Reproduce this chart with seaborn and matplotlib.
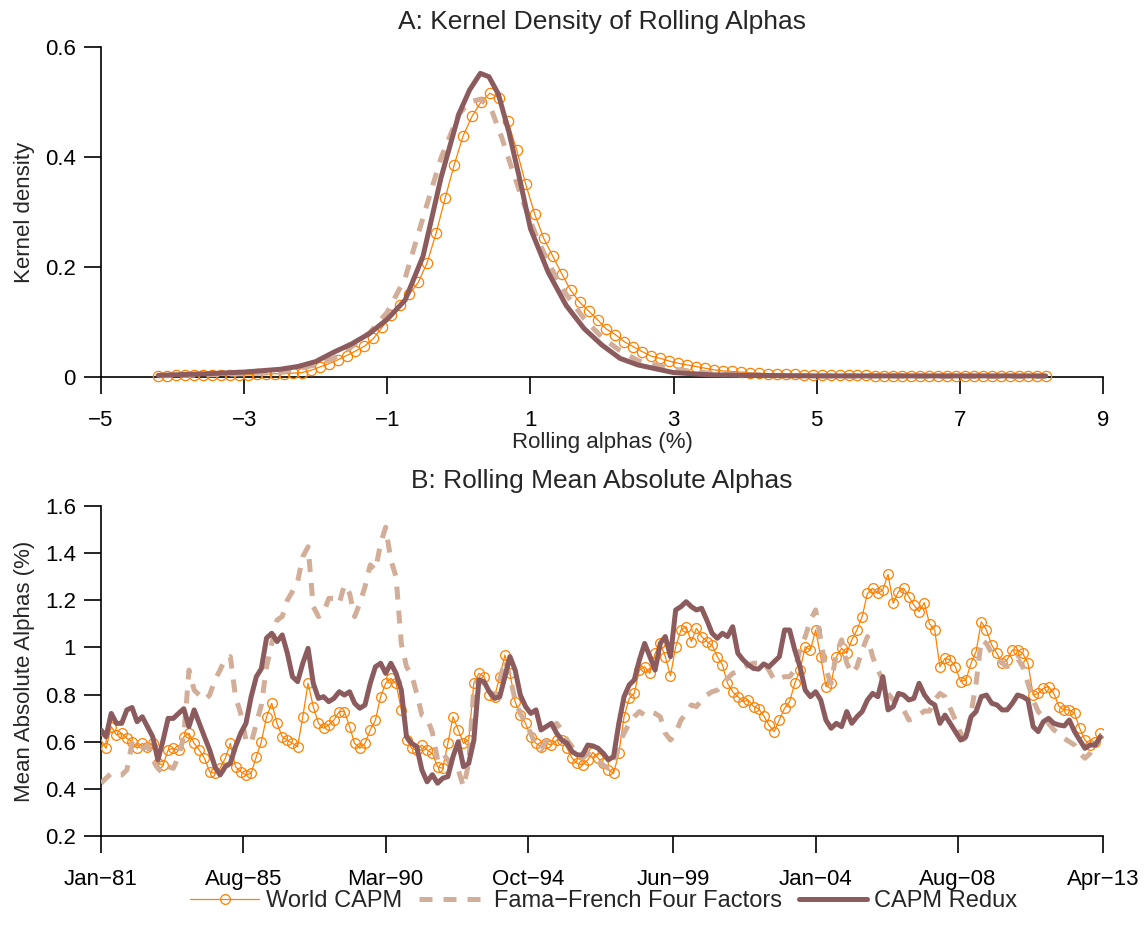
import numpy as np
import pandas as pd
import matplotlib
matplotlib.use("Agg")
import matplotlib.pyplot as plt
import seaborn as sns

# ---------------- Panel A: kernel densities of rolling alphas ----------------
world_grid = np.linspace(-4.2, 8.2, 100)
world_density = [
    0.002, 0.002, 0.003, 0.003, 0.004, 0.004, 0.004, 0.004, 0.004, 0.004, 0.004,
    0.005, 0.005, 0.006, 0.006, 0.007, 0.008,
    0.012, 0.018, 0.024, 0.031, 0.039, 0.047, 0.056, 0.070, 0.091, 0.112, 0.131, 0.150, 0.172,
    0.208, 0.262, 0.325, 0.385, 0.438, 0.474, 0.500, 0.516, 0.508, 0.465,
    0.412, 0.350, 0.296, 0.252, 0.220, 0.188, 0.158, 0.136, 0.120, 0.104,
    0.087, 0.077, 0.064, 0.055, 0.046, 0.038, 0.034, 0.029, 0.025, 0.022,
    0.019, 0.016, 0.013, 0.011, 0.010, 0.009, 0.008, 0.007, 0.006, 0.006,
    0.005, 0.005, 0.004, 0.004, 0.003, 0.003, 0.003, 0.003, 0.003, 0.003,
    0.002, 0.002, 0.002, 0.002, 0.002, 0.002, 0.002, 0.002, 0.002, 0.002,
    0.002, 0.002, 0.002, 0.001, 0.001, 0.001, 0.001, 0.001, 0.001, 0.001,
]

ff_grid = [-4.2, -3.5, -3.0, -2.5, -2.0, -1.75, -1.5, -1.25, -1.0, -0.75, -0.5, -0.25,
           0.0, 0.15, 0.3, 0.45, 0.6, 0.75, 0.9, 1.1, 1.3, 1.5, 1.75, 2.0, 2.25, 2.5,
           3.0, 3.5, 4.0, 5.0, 6.0, 7.0, 8.2]
ff_density = [0.002, 0.004, 0.006, 0.008, 0.022, 0.034, 0.055, 0.080, 0.118, 0.180, 0.290, 0.398,
              0.478, 0.500, 0.505, 0.488, 0.435, 0.375, 0.318, 0.250, 0.196, 0.150, 0.106, 0.072,
              0.048, 0.030, 0.014, 0.007, 0.004, 0.002, 0.002, 0.001, 0.001]

redux_grid = [-4.2, -3.5, -3.0, -2.5, -2.25, -2.0, -1.75, -1.5, -1.25, -1.0, -0.75, -0.5, -0.25,
              0.0, 0.15, 0.3, 0.42, 0.55, 0.7, 0.85, 1.0, 1.25, 1.5, 1.75, 2.0, 2.25, 2.5,
              3.0, 3.5, 4.0, 5.0, 6.0, 7.0, 8.2]
redux_density = [0.003, 0.006, 0.009, 0.014, 0.019, 0.028, 0.045, 0.060, 0.079, 0.105, 0.140, 0.220,
                 0.362, 0.478, 0.522, 0.552, 0.546, 0.515, 0.445, 0.360, 0.270, 0.190, 0.130, 0.088,
                 0.058, 0.034, 0.022, 0.008, 0.004, 0.003, 0.002, 0.002, 0.002, 0.002]

# ---------------- Panel B: rolling mean absolute alphas (bi-monthly) ----------------
dates = pd.date_range("1981-01-01", "2013-03-01", freq="2MS")

world_capm = [
    0.607, 0.572, 0.664, 0.629, 0.636, 0.614, 0.600, 0.572, 0.593, 0.579,
    0.593, 0.508, 0.501, 0.565, 0.572, 0.565, 0.621, 0.636, 0.593, 0.565,
    0.530, 0.473, 0.466, 0.487, 0.530, 0.593, 0.494, 0.473, 0.459, 0.466,
    0.537, 0.600, 0.706, 0.763, 0.678, 0.621, 0.607, 0.593, 0.579, 0.706,
    0.848, 0.749, 0.678, 0.657, 0.671, 0.692, 0.728, 0.728, 0.664, 0.593,
    0.572, 0.593, 0.650, 0.692, 0.791, 0.848, 0.869, 0.848, 0.735, 0.607,
    0.572, 0.565, 0.586, 0.565, 0.551, 0.494, 0.487, 0.593, 0.706, 0.650,
    0.593, 0.607, 0.850, 0.890, 0.876, 0.798, 0.791, 0.876, 0.968, 0.890,
    0.770, 0.713, 0.678, 0.621, 0.593, 0.579, 0.593, 0.586, 0.607, 0.607,
    0.572, 0.530, 0.508, 0.501, 0.523, 0.555, 0.530, 0.508, 0.480, 0.466,
    0.551, 0.706, 0.784, 0.805, 0.904, 0.918, 0.890, 0.975, 1.017, 0.961,
    0.880, 1.003, 1.074, 1.088, 1.025, 1.081, 1.046, 1.025, 1.010, 0.961,
    0.926, 0.848, 0.812, 0.791, 0.770, 0.777, 0.749, 0.740, 0.710, 0.671,
    0.643, 0.692, 0.742, 0.770, 0.848, 0.904, 1.003, 0.989, 1.074, 0.961,
    0.834, 0.848, 0.961, 0.996, 0.975, 1.032, 1.074, 1.131, 1.229, 1.251,
    1.229, 1.244, 1.310, 1.187, 1.237, 1.251, 1.215, 1.180, 1.152, 1.190,
    1.100, 1.074, 0.918, 0.954, 0.947, 0.918, 0.855, 0.862, 0.933, 0.982,
    1.109, 1.074, 1.010, 0.975, 0.933, 0.947, 0.989, 0.989, 0.975, 0.933,
    0.798, 0.805, 0.827, 0.834, 0.805, 0.749, 0.735, 0.735, 0.721, 0.657,
    0.607, 0.586, 0.600, 0.636,
]

fama_french = [
    0.424, 0.445, 0.466, 0.459, 0.459, 0.480, 0.593, 0.579, 0.565, 0.586,
    0.523, 0.487, 0.466, 0.494, 0.487, 0.537, 0.621, 0.904, 0.819, 0.798,
    0.777, 0.798, 0.862, 0.904, 0.954, 0.961, 0.791, 0.720, 0.607, 0.593,
    0.678, 0.755, 0.918, 1.017, 1.116, 1.131, 1.201, 1.237, 1.279, 1.385,
    1.427, 1.173, 1.131, 1.145, 1.208, 1.208, 1.187, 1.265, 1.229, 1.131,
    1.187, 1.258, 1.350, 1.328, 1.442, 1.510, 1.371, 1.300, 1.017, 0.918,
    0.883, 0.805, 0.713, 0.700, 0.640, 0.523, 0.551, 0.523, 0.480, 0.480,
    0.409, 0.508, 0.834, 0.862, 0.848, 0.805, 0.784, 0.862, 0.947, 0.876,
    0.777, 0.720, 0.678, 0.636, 0.579, 0.565, 0.607, 0.636, 0.678, 0.650,
    0.607, 0.579, 0.551, 0.530, 0.551, 0.537, 0.516, 0.501, 0.487, 0.494,
    0.593, 0.636, 0.678, 0.706, 0.728, 0.713, 0.728, 0.720, 0.706, 0.636,
    0.607, 0.636, 0.692, 0.720, 0.756, 0.749, 0.777, 0.798, 0.812, 0.819,
    0.841, 0.869, 0.890, 0.897, 0.911, 0.926, 0.933, 0.933, 0.933, 0.904,
    0.862, 0.869, 0.876, 0.876, 0.904, 0.989, 1.046, 1.116, 1.159, 1.032,
    0.904, 0.848, 0.975, 1.032, 0.933, 0.890, 0.918, 0.989, 1.046, 0.961,
    0.904, 0.862, 0.805, 0.777, 0.763, 0.735, 0.692, 0.699, 0.713, 0.730,
    0.730, 0.777, 0.805, 0.791, 0.742, 0.692, 0.636, 0.600, 0.720, 0.848,
    1.032, 1.017, 0.975, 0.954, 0.933, 0.918, 0.933, 0.954, 0.918, 0.848,
    0.777, 0.728, 0.706, 0.678, 0.650, 0.636, 0.614, 0.600, 0.586, 0.551,
    0.530, 0.551, 0.593, 0.607,
]

capm_redux = [
    0.650, 0.621, 0.720, 0.678, 0.678, 0.735, 0.745, 0.685, 0.706, 0.664,
    0.621, 0.523, 0.607, 0.699, 0.699, 0.720, 0.740, 0.664, 0.735, 0.678,
    0.621, 0.565, 0.494, 0.459, 0.494, 0.508, 0.579, 0.636, 0.678, 0.791,
    0.876, 0.910, 1.040, 1.060, 1.025, 1.053, 0.975, 0.876, 0.855, 0.933,
    0.996, 0.848, 0.784, 0.791, 0.770, 0.784, 0.812, 0.798, 0.812, 0.763,
    0.742, 0.756, 0.848, 0.918, 0.933, 0.890, 0.933, 0.890, 0.819, 0.621,
    0.593, 0.579, 0.480, 0.430, 0.460, 0.424, 0.445, 0.452, 0.537, 0.600,
    0.494, 0.508, 0.607, 0.862, 0.855, 0.812, 0.784, 0.791, 0.876, 0.961,
    0.904, 0.798, 0.749, 0.720, 0.735, 0.650, 0.664, 0.678, 0.636, 0.607,
    0.593, 0.558, 0.544, 0.544, 0.586, 0.582, 0.572, 0.551, 0.523, 0.537,
    0.678, 0.791, 0.841, 0.862, 0.947, 1.017, 0.961, 0.904, 1.017, 1.046,
    0.961, 1.159, 1.173, 1.194, 1.173, 1.159, 1.166, 1.116, 1.060, 1.039,
    1.060, 1.046, 1.088, 0.975, 0.947, 0.926, 0.911, 0.908, 0.930, 0.918,
    0.940, 0.961, 1.074, 1.074, 0.989, 0.918, 0.819, 0.791, 0.812, 0.777,
    0.692, 0.657, 0.678, 0.664, 0.728, 0.678, 0.706, 0.728, 0.777, 0.805,
    0.791, 0.876, 0.735, 0.749, 0.805, 0.798, 0.777, 0.784, 0.848, 0.800,
    0.770, 0.756, 0.678, 0.713, 0.678, 0.643, 0.607, 0.621, 0.706, 0.728,
    0.791, 0.798, 0.763, 0.756, 0.735, 0.735, 0.763, 0.798, 0.791, 0.777,
    0.664, 0.643, 0.685, 0.699, 0.678, 0.671, 0.667, 0.692, 0.643, 0.607,
    0.572, 0.586, 0.586, 0.621,
]

date_ticks = ["1981-01", "1985-08", "1990-03", "1994-10", "1999-06", "2004-01", "2008-08", "2013-04"]
series_names = ["World CAPM", "Fama\u2212French Four Factors", "CAPM Redux"]

# ---------------- styling ----------------
ORANGE = "#FF8000"
TAN = "#D2AD98"
BROWN = "#8B5B5D"

sns.set_theme(style="ticks")
plt.rcParams["font.family"] = ["Liberation Sans", "DejaVu Sans"]
plt.rcParams["axes.unicode_minus"] = True

W, H = 1146, 934
fig = plt.figure(figsize=(W / 100, H / 100), dpi=100)
fig.patch.set_facecolor("white")
axA = fig.add_axes([101 / W, 1 - 377 / H, 1002 / W, 330 / H])
axB = fig.add_axes([101 / W, 1 - 836 / H, 1002 / W, 330 / H])

TICK_FS = 16
LABEL_FS = 16
TITLE_FS = 19

world_kw = dict(color=ORANGE, lw=0.9, marker="o", mfc="none", mec=ORANGE, mew=0.9)
ff_kw = dict(color=TAN, lw=3.6, linestyle=(0, (2.6, 2.2)), dash_capstyle="butt")
redux_kw = dict(color=BROWN, lw=3.6, solid_capstyle="round", solid_joinstyle="round")

# Panel A
sns.lineplot(x=world_grid, y=world_density, ax=axA, sort=False, estimator=None,
             ms=7.4, clip_on=False, zorder=3, legend=False, **world_kw)
sns.lineplot(x=ff_grid, y=ff_density, ax=axA, sort=False, estimator=None,
             clip_on=False, zorder=4, legend=False, **ff_kw)
sns.lineplot(x=redux_grid, y=redux_density, ax=axA, sort=False, estimator=None,
             clip_on=False, zorder=5, legend=False, **redux_kw)

axA.set_xlim(-5, 9)
axA.set_ylim(0, 0.6)
xt = [-5, -3, -1, 1, 3, 5, 7, 9]
axA.set_xticks(xt)
axA.set_xticklabels([f"{v:d}".replace("-", "\u2212") for v in xt])
axA.set_yticks([0, 0.2, 0.4, 0.6])
axA.set_yticklabels(["0", "0.2", "0.4", "0.6"])
axA.set_xlabel("Rolling alphas (%)", fontsize=LABEL_FS)
axA.set_ylabel("Kernel density", fontsize=LABEL_FS)
axA.set_title("A: Kernel Density of Rolling Alphas", fontsize=TITLE_FS, pad=13)
axA.xaxis.set_label_coords(0.5, -0.168)
axA.yaxis.set_label_coords(-0.066, 0.5)

# Panel B
frame = pd.DataFrame({"date": dates, series_names[0]: world_capm,
                      series_names[1]: fama_french, series_names[2]: capm_redux})
sns.lineplot(data=frame, x="date", y=series_names[0], ax=axB, ms=7, zorder=3,
             label=series_names[0], legend=False, **world_kw)
sns.lineplot(data=frame, x="date", y=series_names[1], ax=axB, zorder=4,
             label=series_names[1], legend=False, **ff_kw)
sns.lineplot(data=frame, x="date", y=series_names[2], ax=axB, zorder=5,
             label=series_names[2], legend=False, **redux_kw)

tick_dates = pd.to_datetime(date_ticks)
axB.set_xlim(tick_dates[0], tick_dates[-1])
axB.set_ylim(0.2, 1.6)
axB.set_xticks(tick_dates)
axB.set_xticklabels([d.strftime("%b") + "\u2212" + d.strftime("%y") for d in tick_dates])
yt = [0.2, 0.4, 0.6, 0.8, 1.0, 1.2, 1.4, 1.6]
axB.set_yticks(yt)
axB.set_yticklabels([f"{v:g}" for v in yt])
axB.set_xlabel("")
axB.set_ylabel("Mean Absolute Alphas (%)", fontsize=LABEL_FS)
axB.set_title("B: Rolling Mean Absolute Alphas", fontsize=TITLE_FS, pad=13)
axB.yaxis.set_label_coords(-0.066, 0.5)

for ax in (axA, axB):
    sns.despine(ax=ax)
    ax.set_facecolor("white")
    for side in ("left", "bottom"):
        ax.spines[side].set_linewidth(1.2)
        ax.spines[side].set_color("black")
    ax.tick_params(axis="both", direction="out", length=12, width=1.2,
                   color="black", labelsize=TICK_FS, labelcolor="black")
    ax.tick_params(axis="x", pad=11.5)
    ax.tick_params(axis="y", pad=6)

handles, labels = axB.get_legend_handles_labels()
fig.legend(handles, labels, loc="center", bbox_to_anchor=(604 / W, 1 - 901 / H),
           ncol=3, frameon=False, fontsize=17, handlelength=2.9, numpoints=1,
           handletextpad=0.3, columnspacing=0.7, borderaxespad=0, borderpad=0)

fig.savefig("out.png", dpi=100, facecolor="white")
